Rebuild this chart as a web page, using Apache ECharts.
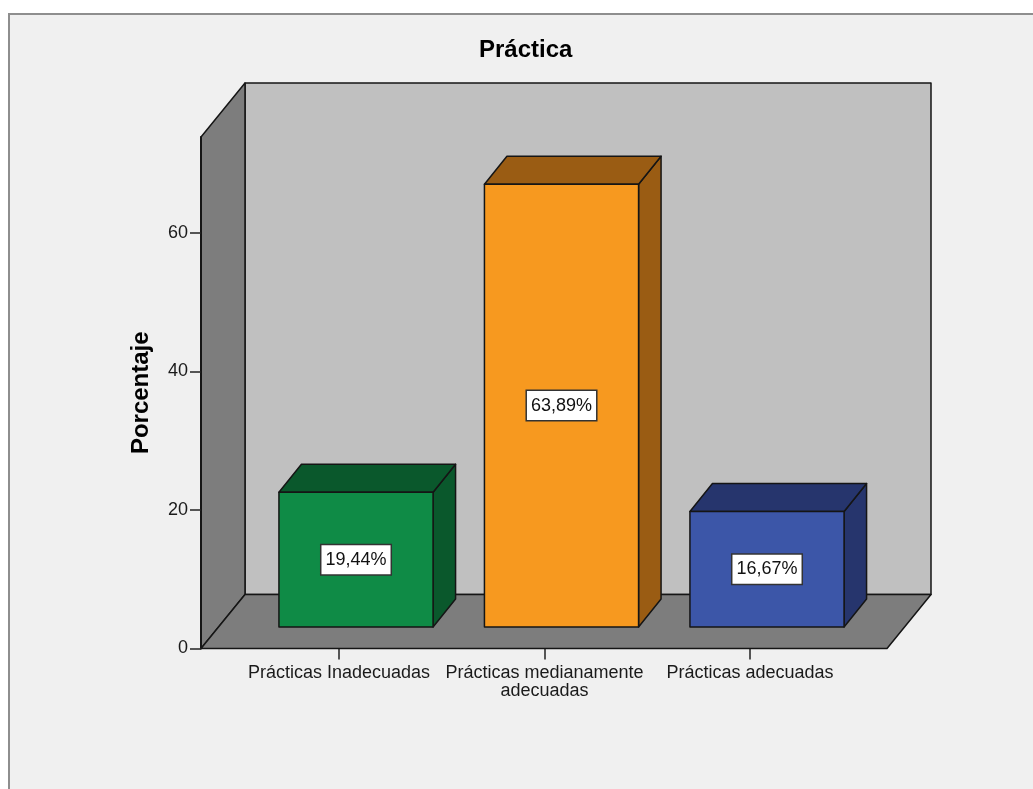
<!DOCTYPE html>
<html>
<head>
<meta charset="utf-8">
<script src="https://cdn.jsdelivr.net/npm/echarts@6/dist/echarts.min.js"></script>
<style>
  html, body { margin: 0; padding: 0; background: #ffffff; }
  #chart { width: 1033px; height: 789px; }
</style>
</head>
<body>
<div id="chart"></div>
<script>
// Categories and percentages of the "Práctica" variable
const categories = ['Prácticas Inadecuadas', 'Prácticas medianamente\nadecuadas', 'Prácticas adecuadas'];
const percentages = [19.44, 63.89, 16.67];
const frontColors = ['#0f8b46', '#f7991f', '#3c56a8'];
const shadeColors = ['#0a582c', '#9a5c13', '#26356d'];
const yTicks = [0, 20, 40, 60];
const yMax = 73.8;

const FONT = '"Liberation Sans", Arial, Helvetica, sans-serif';
const EDGE = '#151515';
const ROOM_DEPTH = [44, -54];   // offset from the front plane to the back wall
const BAR_SHIFT = [17, -21.5];  // bars stand halfway into the room
const BAR_DEPTH = [22.5, -28];  // depth of each 3D bar

function faceStyle(fill) {
  return { fill: fill, stroke: EDGE, lineWidth: 1.5, lineJoin: 'round' };
}

// Back wall, left wall and floor of the 3D frame, derived from the axis extent
function renderRoom(params, api) {
  const fl = api.coord([0, 0]);
  const fr = api.coord([1, 0]);
  const tl = api.coord([0, yMax]);
  const dx = ROOM_DEPTH[0], dy = ROOM_DEPTH[1];
  return {
    type: 'group',
    children: [
      { type: 'polygon', shape: { points: [[fl[0] + dx, tl[1] + dy], [fr[0] + dx, tl[1] + dy], [fr[0] + dx, fl[1] + dy], [fl[0] + dx, fl[1] + dy]] }, style: faceStyle('#c0c0c0') },
      { type: 'polygon', shape: { points: [[fl[0], tl[1]], [fl[0] + dx, tl[1] + dy], [fl[0] + dx, fl[1] + dy], [fl[0], fl[1]]] }, style: faceStyle('#7d7d7d') },
      { type: 'polygon', shape: { points: [[fl[0], fl[1]], [fr[0], fr[1]], [fr[0] + dx, fr[1] + dy], [fl[0] + dx, fl[1] + dy]] }, style: faceStyle('#7d7d7d') }
    ]
  };
}

// One 3D bar: side, top and front faces plus the boxed percentage label
function renderBar(params, api) {
  const i = api.value(0);
  const v = api.value(1);
  const base = api.coord([i, 0]);
  const top = api.coord([i, v]);
  const w = api.size([1, 0])[0] * 0.75;
  const x0 = base[0] - w / 2 + BAR_SHIFT[0];
  const x1 = x0 + w;
  const yb = base[1] + BAR_SHIFT[1];
  const yt = top[1] + BAR_SHIFT[1];
  const dx = BAR_DEPTH[0], dy = BAR_DEPTH[1];
  const front = frontColors[params.dataIndex];
  const shade = shadeColors[params.dataIndex];
  const label = v.toFixed(2).replace('.', ',') + '%';
  return {
    type: 'group',
    children: [
      { type: 'polygon', shape: { points: [[x1, yt], [x1 + dx, yt + dy], [x1 + dx, yb + dy], [x1, yb]] }, style: faceStyle(shade) },
      { type: 'polygon', shape: { points: [[x0, yt], [x0 + dx, yt + dy], [x1 + dx, yt + dy], [x1, yt]] }, style: faceStyle(shade) },
      { type: 'rect', shape: { x: x0, y: yt, width: w, height: yb - yt }, style: faceStyle(front) },
      {
        type: 'text', x: (x0 + x1) / 2, y: (yt + yb) / 2,
        style: {
          text: label, fontSize: 18, fontFamily: FONT, fill: '#111',
          align: 'center', verticalAlign: 'middle',
          backgroundColor: '#ffffff', borderColor: '#333333', borderWidth: 1.5,
          padding: [6, 4, 5, 4]
        }
      }
    ]
  };
}

const chart = echarts.init(document.getElementById('chart'), null, { renderer: 'canvas' });

chart.setOption({
  animation: false,
  backgroundColor: 'transparent',
  title: {
    text: 'Práctica',
    left: 479,
    top: 38,
    padding: 0,
    textStyle: { fontFamily: FONT, fontSize: 24, fontWeight: 'bold', color: '#000' }
  },
  graphic: [{
    type: 'rect', z: -10, silent: true,
    shape: { x: 9, y: 14, width: 1100, height: 900 },
    style: { fill: '#f0f0f0', stroke: '#8e8e8e', lineWidth: 2 }
  }],
  grid: [
    { left: 201, right: 146, top: 137, bottom: 140.5 },
    { left: 236.25, right: 180.25, top: 137, bottom: 140.5 }
  ],
  xAxis: [
    { gridIndex: 0, type: 'value', min: 0, max: 1, show: false },
    {
      gridIndex: 1, type: 'category', data: categories,
      axisLine: { show: false },
      axisTick: { show: true, alignWithLabel: true, length: 11, lineStyle: { color: '#222', width: 1.5 } },
      axisLabel: { margin: 16, fontFamily: FONT, fontSize: 18, color: '#1a1a1a', lineHeight: 18, interval: 0 },
      splitLine: { show: false }
    }
  ],
  yAxis: [
    {
      gridIndex: 0, type: 'value', min: 0, max: yMax, interval: 20, z: 3,
      name: 'Porcentaje', nameLocation: 'middle', nameRotate: 90, nameGap: 48,
      nameTextStyle: { fontFamily: FONT, fontSize: 24, fontWeight: 'bold', color: '#000' },
      axisLine: { show: true, lineStyle: { color: EDGE, width: 2 } },
      axisTick: { show: true, inside: false, length: 11, customValues: yTicks, lineStyle: { color: '#222', width: 1.5 } },
      axisLabel: { margin: 13, fontFamily: FONT, fontSize: 18, color: '#1a1a1a', customValues: yTicks },
      splitLine: { show: false }
    },
    { gridIndex: 1, type: 'value', min: 0, max: yMax, show: false }
  ],
  series: [
    {
      type: 'custom', name: 'room', xAxisIndex: 0, yAxisIndex: 0, z: 1, silent: true,
      renderItem: renderRoom, data: [[0, 0]]
    },
    {
      type: 'custom', name: 'Porcentaje', xAxisIndex: 1, yAxisIndex: 1, z: 2,
      renderItem: renderBar,
      data: percentages.map(function (v, i) { return [i, v]; })
    }
  ]
});
</script>
</body>
</html>
